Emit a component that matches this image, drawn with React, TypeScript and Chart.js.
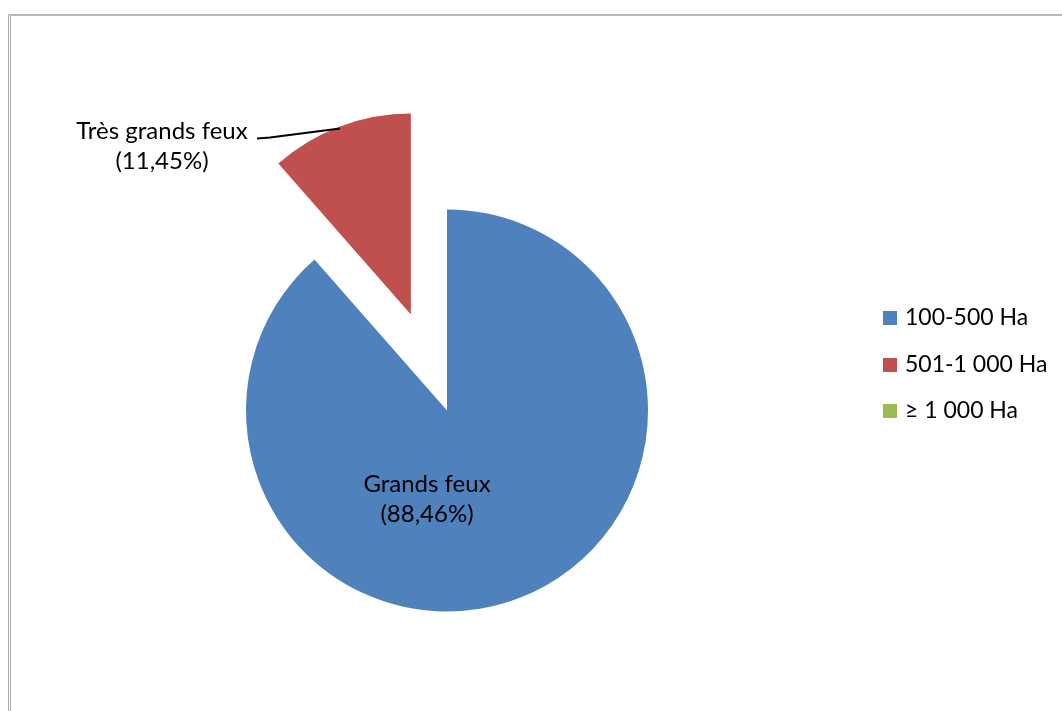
import React, { useEffect, useRef } from "react";
import { Chart, registerables } from "chart.js";

Chart.register(...registerables);

// ---- data ----
const categories = ["100-500 Ha", "501-1 000 Ha", "≥ 1 000 Ha"];
const shares = [88.46, 11.45, 0];
const sliceNames = ["Grands feux", "Très grands feux", ""];
const colors = ["#4F81BD", "#C0504D", "#9BBB59"];
const explode = [0, 410, 0];

const FONT = "Lato, 'Noto Sans', sans-serif";
const RADIUS = 201;

const fmtPct = (v: number) => "(" + v.toFixed(2).replace(".", ",") + "%)";

// keep exploded slices at the same radius / angle as the rest of the pie
const fixRadiusPlugin = {
  id: "fixRadius",
  afterDatasetsUpdate(chart: any) {
    const meta = chart.getDatasetMeta(0);
    meta.data.forEach((arc: any, i: number) => {
      const off = (explode[i] || 0) / 4;
      if (!off) return;
      const circ = arc.circumference;
      const fix = 1 - Math.sin(Math.min(Math.PI, circ || 0));
      const radiusOffset = off * fix;
      arc.outerRadius = RADIUS - radiusOffset;
      const d = radiusOffset / Math.PI / RADIUS / 2;
      arc.startAngle -= d;
      arc.endAngle += d;
    });
  },
};

const labelsPlugin = {
  id: "sliceLabels",
  afterDraw(chart: any) {
    const ctx = chart.ctx;
    const meta = chart.getDatasetMeta(0);
    const arc0 = meta.data[0];
    const cx = arc0.x;
    const cy = arc0.y;
    ctx.save();
    ctx.fillStyle = "#000";
    ctx.font = `24px ${FONT}`;
    ctx.textAlign = "center";
    ctx.textBaseline = "middle";
    // blue slice label (inside)
    ctx.fillText(sliceNames[0], cx - 20, cy + 74);
    ctx.fillText(fmtPct(shares[0]), cx - 20, cy + 104);
    // red slice label (outside, with leader)
    ctx.fillText(sliceNames[1], cx - 285, cy - 279);
    ctx.fillText(fmtPct(shares[1]), cx - 285, cy - 249);
    ctx.strokeStyle = "#000";
    ctx.lineWidth = 2;
    ctx.beginPath();
    ctx.moveTo(cx - 190, cy - 272);
    ctx.lineTo(cx - 177, cy - 273);
    ctx.lineTo(cx - 107, cy - 282);
    ctx.stroke();

    // legend
    ctx.font = `23px ${FONT}`;
    ctx.textAlign = "left";
    const rows = [318, 365, 411];
    categories.forEach((c, i) => {
      ctx.fillStyle = colors[i];
      ctx.fillRect(883, rows[i] - 7, 14, 14);
      ctx.fillStyle = "#000";
      ctx.fillText(c, 905, rows[i]);
    });
    ctx.restore();
  },
};

export default function App() {
  const ref = useRef<HTMLCanvasElement>(null);
  useEffect(() => {
    if (!ref.current) return;
    const chart = new Chart(ref.current, {
      type: "pie",
      data: {
        labels: categories,
        datasets: [
          {
            data: shares,
            backgroundColor: colors,
            borderWidth: 0,
            offset: explode,
            clip: false as any,
          } as any,
        ],
      },
      options: {
        responsive: false,
        animation: false,
        radius: RADIUS,
        layout: { padding: { left: 0, right: 168, top: 110, bottom: 0 } },
        plugins: { legend: { display: false }, tooltip: { enabled: false } },
      } as any,
      plugins: [fixRadiusPlugin, labelsPlugin],
    });
    return () => chart.destroy();
  }, []);
  return (
    <div style={{ position: "absolute", left: 0, top: 0, width: 1062, height: 711, overflow: "hidden", background: "#fff" }}>
      <div
        style={{
          position: "absolute",
          left: 8,
          top: 14,
          width: 1100,
          height: 800,
          borderTop: "2px solid #b8b8b8",
          borderLeft: "3px double #a8a8a8",
        }}
      />
      <canvas ref={ref} width={1062} height={711} style={{ position: "absolute", left: 0, top: 0 }} />
    </div>
  );
}
